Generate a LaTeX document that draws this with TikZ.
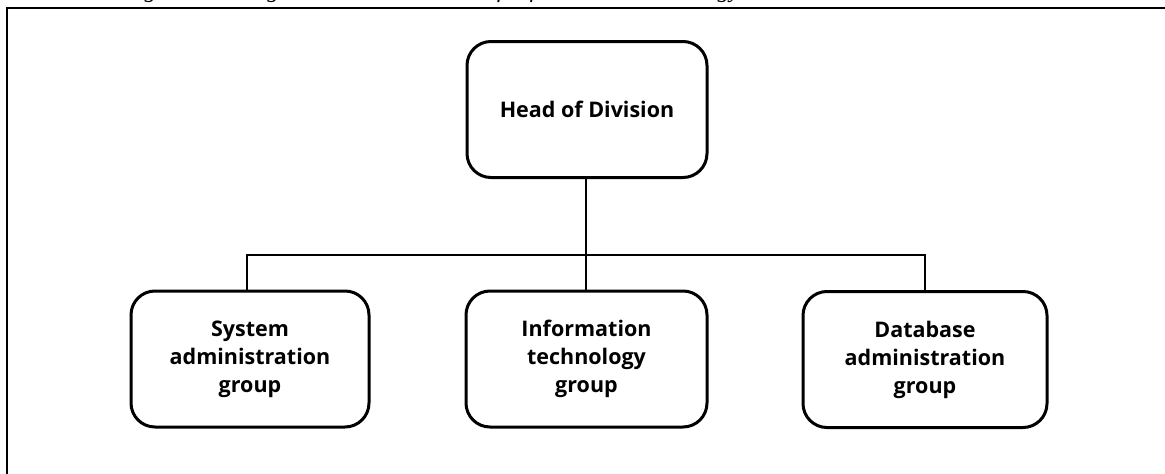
\documentclass[tikz,border=0pt]{standalone}
\usepackage{fontspec}
\setmainfont{Liberation Serif}
\newfontfamily\boxfont{Open Sans}
\begin{document}
\begin{tikzpicture}[x=1pt,y=1pt,
  unitbox/.style={draw=black, line width=3pt, rounded corners=24pt,
    minimum width=240pt, minimum height=136pt, align=center,
    font=\boxfont\bfseries\fontsize{21.5}{28}\selectfont, inner sep=0pt},
  link/.style={draw=black, line width=2.2pt},
  frameline/.style={draw=black, line width=2.4pt}]
  \useasboundingbox (0,0) rectangle (1165,-474);
  \clip (0,0) rectangle (1165,-474);

  % caption of the figure, mostly above the page edge
  \node[anchor=base west, inner sep=0pt,
        font=\itshape\fontsize{24}{28}\selectfont] (caption) at (123,3)
    {Figure 2-1: Organizational structure of Information Technology division};

  % outer frame (top and left edges)
  \coordinate (frameTL) at (7,-8);
  \coordinate (frameTR) at (1170,-8);
  \coordinate (frameBL) at (7,-480);
  \draw[frameline] (frameTR) -- (frameTL) -- (frameBL);

  % boxes
  \node[unitbox] (head) at (587,-109.5) {Head of Division};
  \node[unitbox, minimum width=238pt] (sys) at (250,-359) {System\\administration\\group};
  \node[unitbox, minimum width=241pt] (it)  at (586.5,-359) {Information\\technology\\group};
  \node[unitbox, minimum width=244pt] (db)  at (925,-359.5) {Database\\administration\\group};

  % connectors
  \coordinate (bus) at (586,-255);
  \coordinate (busL) at (247,-255);
  \coordinate (busR) at (925,-255);
  \draw[link] (head.south -| bus) -- (bus);
  \draw[link] (busL |- sys.north) -- (busL) -- (busR) -- (busR |- db.north);
  \draw[link] (bus) -- (it.north -| bus);
\end{tikzpicture}
\end{document}
